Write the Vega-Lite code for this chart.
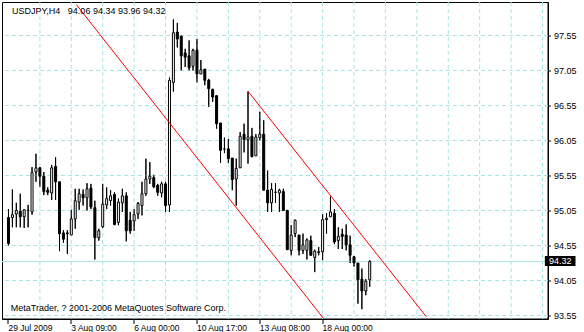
{
  "$schema": "https://vega.github.io/schema/vega-lite/v6.json",
  "width": 546,
  "height": 317,
  "autosize": {"type": "none"},
  "padding": {"left": 2, "top": 2, "right": 36, "bottom": 13},
  "background": "white",
  "config": {
    "view": {"stroke": "black", "strokeWidth": 1},
    "font": "Liberation Sans",
    "axis": {
      "grid": false,
      "translate": 0,
      "domainColor": "black",
      "tickColor": "black",
      "labelColor": "black",
      "labelOverlap": false,
      "labelBound": false,
      "labelFlush": false,
      "title": null
    }
  },
  "datasets": {
    "candles": [
      {"i":0,"o":94.95,"h":95.07,"l":94.55,"c":94.58},
      {"i":1,"o":94.95,"h":95.35,"l":94.81,"c":94.99},
      {"i":2,"o":95.00,"h":95.16,"l":94.81,"c":95.05},
      {"i":3,"o":95.04,"h":95.29,"l":94.81,"c":94.96},
      {"i":4,"o":94.96,"h":95.07,"l":94.80,"c":95.06},
      {"i":5,"o":95.05,"h":95.13,"l":94.81,"c":95.05},
      {"i":6,"o":95.03,"h":95.67,"l":94.99,"c":95.59},
      {"i":7,"o":95.60,"h":95.86,"l":95.46,"c":95.66},
      {"i":8,"o":95.66,"h":95.67,"l":95.39,"c":95.54},
      {"i":9,"o":95.54,"h":95.60,"l":95.27,"c":95.32},
      {"i":10,"o":95.34,"h":95.38,"l":95.27,"c":95.31},
      {"i":11,"o":95.30,"h":95.70,"l":95.20,"c":95.66},
      {"i":12,"o":95.68,"h":95.81,"l":95.20,"c":95.46},
      {"i":13,"o":95.46,"h":95.46,"l":94.47,"c":94.72},
      {"i":14,"o":94.73,"h":94.77,"l":94.59,"c":94.64},
      {"i":15,"o":94.73,"h":94.77,"l":94.43,"c":94.72},
      {"i":16,"o":94.70,"h":95.06,"l":94.70,"c":94.93},
      {"i":17,"o":94.93,"h":95.36,"l":94.79,"c":95.19},
      {"i":18,"o":95.17,"h":95.36,"l":95.06,"c":95.29},
      {"i":19,"o":95.28,"h":95.35,"l":95.12,"c":95.23},
      {"i":20,"o":95.23,"h":95.44,"l":95.05,"c":95.36},
      {"i":21,"o":95.37,"h":95.43,"l":95.07,"c":95.10},
      {"i":22,"o":95.09,"h":95.19,"l":94.35,"c":94.66},
      {"i":23,"o":94.66,"h":94.79,"l":94.62,"c":94.76},
      {"i":24,"o":94.82,"h":95.43,"l":94.80,"c":95.14},
      {"i":25,"o":95.13,"h":95.38,"l":95.07,"c":95.22},
      {"i":26,"o":95.19,"h":95.34,"l":95.12,"c":95.26},
      {"i":27,"o":95.28,"h":95.31,"l":94.84,"c":94.85},
      {"i":28,"o":94.88,"h":95.22,"l":94.84,"c":95.17},
      {"i":29,"o":95.16,"h":95.36,"l":95.03,"c":95.26},
      {"i":30,"o":95.26,"h":95.31,"l":94.61,"c":94.76},
      {"i":31,"o":94.91,"h":95.03,"l":94.72,"c":94.76},
      {"i":32,"o":94.90,"h":95.07,"l":94.76,"c":94.99},
      {"i":33,"o":95.00,"h":95.17,"l":94.93,"c":95.15},
      {"i":34,"o":95.12,"h":95.46,"l":94.98,"c":95.29},
      {"i":35,"o":95.29,"h":95.79,"l":95.26,"c":95.50},
      {"i":36,"o":95.50,"h":95.74,"l":95.43,"c":95.54},
      {"i":37,"o":95.52,"h":95.56,"l":95.37,"c":95.39},
      {"i":38,"o":95.41,"h":95.43,"l":95.26,"c":95.31},
      {"i":39,"o":95.30,"h":95.46,"l":95.24,"c":95.43},
      {"i":40,"o":95.43,"h":95.46,"l":95.03,"c":95.12},
      {"i":41,"o":95.13,"h":96.95,"l":95.03,"c":96.91},
      {"i":42,"o":96.88,"h":97.78,"l":96.75,"c":97.59},
      {"i":43,"o":97.60,"h":97.73,"l":97.38,"c":97.50},
      {"i":44,"o":97.54,"h":97.55,"l":97.05,"c":97.26},
      {"i":45,"o":97.30,"h":97.36,"l":97.10,"c":97.24},
      {"i":46,"o":97.26,"h":97.48,"l":97.05,"c":97.09},
      {"i":47,"o":97.11,"h":97.36,"l":97.05,"c":97.34},
      {"i":48,"o":97.34,"h":97.50,"l":96.88,"c":97.00},
      {"i":49,"o":97.00,"h":97.20,"l":97.00,"c":97.06},
      {"i":50,"o":97.07,"h":97.07,"l":96.84,"c":96.91},
      {"i":51,"o":96.91,"h":96.93,"l":96.53,"c":96.79},
      {"i":52,"o":96.78,"h":96.79,"l":96.60,"c":96.67},
      {"i":53,"o":96.69,"h":96.69,"l":96.22,"c":96.29},
      {"i":54,"o":96.30,"h":96.30,"l":95.73,"c":95.91},
      {"i":55,"o":95.93,"h":96.09,"l":95.87,"c":95.93},
      {"i":56,"o":95.93,"h":96.07,"l":95.73,"c":95.79},
      {"i":57,"o":95.80,"h":95.80,"l":95.34,"c":95.49},
      {"i":58,"o":95.50,"h":95.79,"l":95.12,"c":95.65},
      {"i":59,"o":95.66,"h":96.17,"l":95.66,"c":96.11},
      {"i":60,"o":96.14,"h":96.29,"l":95.88,"c":96.06},
      {"i":61,"o":96.06,"h":96.75,"l":95.72,"c":96.10},
      {"i":62,"o":96.11,"h":96.23,"l":95.81,"c":95.82},
      {"i":63,"o":95.83,"h":96.14,"l":95.83,"c":96.10},
      {"i":64,"o":96.09,"h":96.46,"l":96.05,"c":96.14},
      {"i":65,"o":96.14,"h":96.34,"l":95.34,"c":95.34},
      {"i":66,"o":95.34,"h":95.62,"l":95.03,"c":95.16},
      {"i":67,"o":95.16,"h":95.44,"l":95.03,"c":95.35},
      {"i":68,"o":95.31,"h":95.44,"l":95.16,"c":95.31},
      {"i":69,"o":95.30,"h":95.36,"l":95.03,"c":95.34},
      {"i":70,"o":95.32,"h":95.36,"l":95.05,"c":95.05},
      {"i":71,"o":95.05,"h":95.06,"l":94.49,"c":94.49},
      {"i":72,"o":94.48,"h":94.84,"l":94.41,"c":94.70},
      {"i":73,"o":94.72,"h":94.92,"l":94.67,"c":94.91},
      {"i":74,"o":94.70,"h":94.70,"l":94.41,"c":94.48},
      {"i":75,"o":94.48,"h":94.72,"l":94.43,"c":94.56},
      {"i":76,"o":94.48,"h":94.65,"l":94.35,"c":94.63},
      {"i":77,"o":94.62,"h":94.69,"l":94.41,"c":94.41},
      {"i":78,"o":94.38,"h":94.49,"l":94.17,"c":94.47},
      {"i":79,"o":94.46,"h":94.53,"l":94.41,"c":94.45},
      {"i":80,"o":94.46,"h":95.00,"l":94.34,"c":94.92},
      {"i":81,"o":94.92,"h":95.01,"l":94.72,"c":94.94},
      {"i":82,"o":94.96,"h":95.25,"l":94.96,"c":95.03},
      {"i":83,"o":95.01,"h":95.07,"l":94.57,"c":94.60},
      {"i":84,"o":94.62,"h":94.81,"l":94.50,"c":94.68},
      {"i":85,"o":94.71,"h":94.79,"l":94.50,"c":94.68},
      {"i":86,"o":94.70,"h":94.85,"l":94.48,"c":94.56},
      {"i":87,"o":94.56,"h":94.69,"l":94.30,"c":94.41},
      {"i":88,"o":94.39,"h":94.39,"l":94.25,"c":94.30},
      {"i":89,"o":94.30,"h":94.30,"l":93.72,"c":94.06},
      {"i":90,"o":94.07,"h":94.22,"l":93.64,"c":93.90},
      {"i":91,"o":93.90,"h":94.07,"l":93.84,"c":94.04},
      {"i":92,"o":94.06,"h":94.34,"l":93.96,"c":94.32}
    ],
    "gridx": [
      {"g":8},{"g":16},{"g":24},{"g":32},{"g":40},{"g":48},{"g":56},{"g":64},{"g":72},
      {"g":80},{"g":88},{"g":96},{"g":104},{"g":112},{"g":120},{"g":128},{"g":136}
    ],
    "gridy": [
      {"g":93.55},{"g":94.05},{"g":94.55},{"g":95.05},{"g":95.55},{"g":96.05},{"g":96.55},{"g":97.05},{"g":97.55}
    ]
  },
  "layer": [
    {
      "data": {"name": "candles"},
      "mark": {"type": "rule", "color": "black", "strokeWidth": 1},
      "encoding": {
        "x": {
          "field": "i", "type": "quantitative",
          "scale": {"domain": [-0.375, 136.125], "nice": false, "zero": false},
          "axis": {
            "values": [0, 16, 32, 48, 64, 80],
            "tickCount": 50,
            "tickSize": 5,
            "labelExpr": "datum.value === 0 ? '29 Jul 2009' : datum.value === 16 ? '3 Aug 09:00' : datum.value === 32 ? '6 Aug 00:00' : datum.value === 48 ? '10 Aug 17:00' : datum.value === 64 ? '13 Aug 08:00' : datum.value === 80 ? '18 Aug 00:00' : ''",
            "labelAlign": "left",
            "labelDx": 3,
            "labelBaseline": "top",
            "labelPadding": 0,
            "labelFontSize": 8.5
          }
        },
        "y": {
          "field": "l", "type": "quantitative",
          "scale": {"domain": [93.5, 98.0286], "nice": false, "zero": false},
          "axis": {
            "orient": "right",
            "values": [93.55, 94.05, 94.55, 95.05, 95.55, 96.05, 96.55, 97.05, 97.55],
            "tickCount": 50,
            "format": ".2f",
            "tickSize": 3,
            "labelPadding": 3,
            "labelFontSize": 9,
            "labelBaseline": "middle"
          }
        },
        "y2": {"field": "h"}
      }
    },
    {
      "data": {"name": "gridx"},
      "mark": {"type": "rule", "color": "#a8e4e4", "strokeWidth": 1, "strokeDash": [4, 3]},
      "encoding": {
        "x": {"field": "g", "type": "quantitative"}
      }
    },
    {
      "data": {"name": "gridy"},
      "mark": {"type": "rule", "color": "#a8e4e4", "strokeWidth": 1, "strokeDash": [4, 3]},
      "encoding": {
        "y": {"field": "g", "type": "quantitative"}
      }
    },
    {
      "data": {"values": [{"p": 94.32}]},
      "mark": {"type": "rule", "color": "#a8e4e4", "strokeWidth": 1},
      "encoding": {
        "y": {"field": "p", "type": "quantitative"}
      }
    },
    {
      "data": {"name": "candles"},
      "mark": {"type": "rule", "color": "black", "strokeWidth": 1},
      "encoding": {
        "x": {"field": "i", "type": "quantitative"},
        "y": {"field": "l", "type": "quantitative"},
        "y2": {"field": "h"}
      }
    },
    {
      "data": {"name": "candles"},
      "mark": {"type": "bar", "width": 2, "stroke": "black", "strokeWidth": 1},
      "encoding": {
        "x": {"field": "i", "type": "quantitative"},
        "y": {"field": "o", "type": "quantitative"},
        "y2": {"field": "c"},
        "fill": {"condition": {"test": "datum.c >= datum.o", "value": "white"}, "value": "black"}
      }
    },
    {
      "data": {"values": [{"x1": 17.3, "v1": 97.99, "x2": 80.2, "v2": 93.51}, {"x1": 60.95, "v1": 96.757, "x2": 106.4, "v2": 93.533}]},
      "mark": {"type": "rule", "color": "#ff0000", "strokeWidth": 1},
      "encoding": {
        "x": {"field": "x1", "type": "quantitative"},
        "y": {"field": "v1", "type": "quantitative"},
        "x2": {"field": "x2"},
        "y2": {"field": "v2"}
      }
    },
    {
      "data": {"values": [{"t": "USDJPY,H4\u00a0\u00a0\u00a094.06 94.34 93.96 94.32"}]},
      "mark": {"type": "text", "align": "left", "baseline": "alphabetic", "fontSize": 9, "color": "black"},
      "encoding": {
        "x": {"datum": 0.9},
        "y": {"datum": 97.857},
        "text": {"field": "t"}
      }
    },
    {
      "data": {"values": [{"t": "MetaTrader, ? 2001-2006 MetaQuotes Software Corp."}]},
      "mark": {"type": "text", "align": "left", "baseline": "alphabetic", "fontSize": 9, "color": "black"},
      "encoding": {
        "x": {"datum": 0.6},
        "y": {"datum": 93.62},
        "text": {"field": "t"}
      }
    },
    {
      "data": {"values": [{"p": 94.32}]},
      "mark": {"type": "rect", "color": "black"},
      "encoding": {
        "x": {"datum": 136.6},
        "x2": {"datum": 144.4},
        "y": {"datum": 94.40},
        "y2": {"datum": 94.257}
      }
    },
    {
      "data": {"values": [{"p": "94.32"}]},
      "mark": {"type": "text", "align": "center", "baseline": "middle", "fontSize": 9, "color": "white"},
      "encoding": {
        "x": {"datum": 140.5},
        "y": {"datum": 94.33},
        "text": {"field": "p"}
      }
    }
  ]
}
